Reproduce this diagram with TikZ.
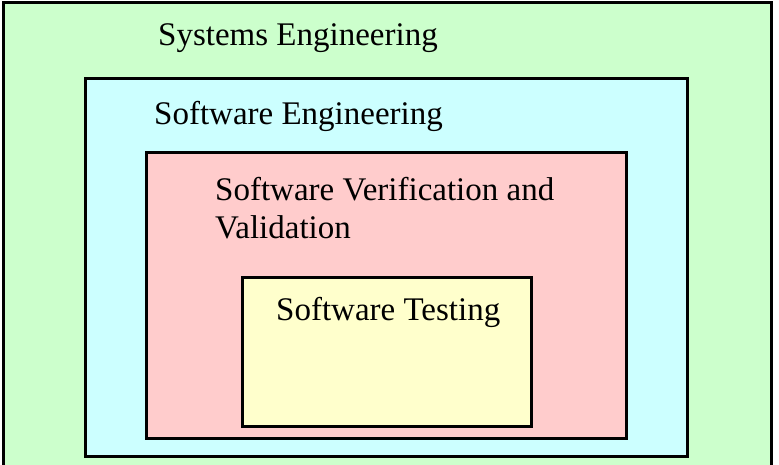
\documentclass[tikz,border=0pt]{standalone}
\usepackage{fontspec}
\setmainfont{Liberation Serif}
\usepackage{tikz}
\usetikzlibrary{positioning}
\usepackage{xcolor}
\definecolor{sysgreen}{RGB}{204,255,204}
\definecolor{swblue}{RGB}{204,255,255}
\definecolor{vvpink}{RGB}{255,204,204}
\definecolor{testyellow}{RGB}{255,255,204}

\begin{document}
\begin{tikzpicture}[x=1pt, y=-1pt, font=\fontsize{33}{39}\selectfont,
		box/.style={draw=black, line width=3pt},
		lbl/.style={anchor=base west, inner sep=0pt, align=left}]
			\useasboundingbox (0,0) rectangle (779,465);
			% boxes
			\filldraw[box, fill=sysgreen] (3,3) rectangle (771,475);
			\filldraw[box, fill=swblue] (85,79) rectangle (687,456);
			\filldraw[box, fill=vvpink] (146,153) rectangle (626,438);
			\filldraw[box, fill=testyellow] (242,277) rectangle (531,426);
			% labels (base of the last line)
			\node[lbl] (syseng) at (158, 46) {Systems Engineering};
			\node[lbl] (sweng) at (154, 125) {Software Engineering};
			\node[lbl] (swvv) at (215, 239) {Software Verification and\\Validation};
			\node[lbl] (swtest) at (276, 320) {Software Testing};
		\end{tikzpicture}
\end{document}
